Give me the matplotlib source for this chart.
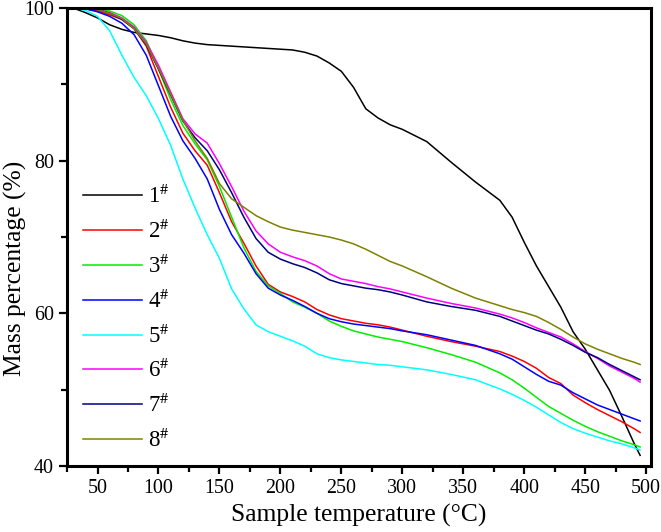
import matplotlib
matplotlib.use("Agg")
import matplotlib.pyplot as plt
from matplotlib.ticker import MultipleLocator

# temperature grid (deg C) that the curves were read on
temp = [30, 40, 50, 60, 70, 80, 90, 100, 110, 120, 130, 140, 150, 160, 170,
        180, 190, 200, 210, 220, 230, 240, 250, 260, 270, 280, 290, 300, 320,
        340, 360, 380, 390, 400, 410, 420, 430, 440, 450, 460, 470, 480, 490, 495]

s1 = [100, 99.4, 98.7, 97.8, 97.2, 96.8, 96.6, 96.4, 96.1, 95.7, 95.4, 95.2, 95.1, 95.0, 94.9,
      94.8, 94.7, 94.6, 94.5, 94.2, 93.7, 92.8, 91.7, 89.6, 86.8, 85.6, 84.7, 84.1, 82.5,
      79.8, 77.2, 74.8, 72.6, 69.3, 66.2, 63.5, 60.8, 57.6, 55.3, 52.6, 49.9, 46.5, 43.0, 41.4]
s2 = [100, 99.9, 99.6, 99.1, 98.5, 97.3, 95.0, 91.0, 87.0, 83.6, 81.3, 79.4, 75.8, 72.0, 69.2,
      66.2, 63.8, 62.8, 62.2, 61.5, 60.5, 59.8, 59.3, 59.0, 58.7, 58.5, 58.2, 57.8, 57.0,
      56.3, 55.7, 55.0, 54.4, 53.7, 52.8, 51.6, 50.8, 49.3, 48.3, 47.4, 46.6, 45.8, 44.9, 44.4]
s3 = [100, 100, 99.9, 99.6, 99.0, 97.8, 95.7, 92.0, 88.0, 84.6, 82.2, 80.1, 76.6, 72.6, 68.6,
      65.5, 63.6, 62.6, 61.5, 60.8, 60.0, 59.0, 58.3, 57.7, 57.3, 56.9, 56.6, 56.3, 55.5,
      54.6, 53.6, 52.2, 51.3, 50.2, 49.0, 47.8, 46.9, 46.0, 45.2, 44.5, 43.9, 43.3, 42.8, 42.5]
s4 = [100, 99.9, 99.5, 98.9, 98.0, 96.5, 93.8, 89.8, 85.8, 82.6, 80.3, 77.6, 73.6, 70.3, 67.9,
      65.2, 63.3, 62.4, 61.7, 60.9, 60.0, 59.3, 58.9, 58.6, 58.4, 58.2, 58.0, 57.7, 57.2,
      56.5, 55.8, 54.7, 54.0, 53.0, 52.0, 51.1, 50.6, 49.6, 48.8, 48.0, 47.4, 46.8, 46.2, 45.9]
s5 = [100, 99.7, 98.9, 97.0, 93.8, 90.9, 88.5, 85.5, 82.0, 77.6, 73.8, 70.3, 67.2, 63.2, 60.6,
      58.5, 57.6, 57.0, 56.4, 55.7, 54.7, 54.2, 53.9, 53.7, 53.5, 53.3, 53.2, 53.0, 52.6,
      52.0, 51.3, 50.1, 49.4, 48.6, 47.7, 46.7, 45.7, 44.9, 44.3, 43.8, 43.3, 42.9, 42.4, 42.1]
s6 = [100, 100, 99.8, 99.4, 98.7, 97.5, 95.5, 92.5, 89.0, 85.5, 83.5, 82.3, 79.6, 76.6, 73.4,
      70.8, 69.1, 68.0, 67.4, 66.9, 66.2, 65.2, 64.5, 64.2, 63.9, 63.5, 63.2, 62.8, 62.0,
      61.3, 60.7, 59.9, 59.4, 58.8, 58.1, 57.5, 56.9, 56.0, 55.0, 54.1, 53.1, 52.3, 51.5, 51.0]
s7 = [100, 100, 99.8, 99.3, 98.5, 97.3, 95.2, 92.0, 88.6, 85.2, 83.0, 81.3, 78.8, 75.8, 72.6,
      69.8, 68.0, 67.1, 66.5, 66.0, 65.3, 64.4, 63.9, 63.6, 63.3, 63.1, 62.8, 62.4, 61.5,
      60.9, 60.4, 59.6, 59.0, 58.4, 57.8, 57.3, 56.6, 55.8, 54.9, 54.2, 53.3, 52.5, 51.7, 51.3]
s8 = [100, 100, 99.8, 99.3, 98.6, 97.3, 95.3, 92.1, 88.7, 85.3, 82.6, 80.3, 77.0, 75.0, 73.9,
      72.8, 72.0, 71.3, 70.9, 70.6, 70.3, 70.0, 69.6, 69.1, 68.4, 67.6, 66.8, 66.2, 64.8,
      63.3, 62.0, 61.0, 60.5, 60.1, 59.6, 58.8, 57.9, 56.9, 56.0, 55.3, 54.7, 54.1, 53.6, 53.3]

samples = [r'1$^{\#}$', r'2$^{\#}$', r'3$^{\#}$', r'4$^{\#}$',
           r'5$^{\#}$', r'6$^{\#}$', r'7$^{\#}$', r'8$^{\#}$']
colors = ['#000000', '#ff0000', '#00ee00', '#0000ff',
          '#00ffff', '#ff00ff', '#000080', '#808000']

plt.rcParams['font.family'] = ['Liberation Serif', 'DejaVu Serif']
plt.rcParams['mathtext.fontset'] = 'stix'

fig = plt.figure(figsize=(6.61, 5.32), dpi=100)
ax = fig.add_axes([0.1014, 0.124, 0.8836, 0.861])

for ys, c, lab in zip([s1, s2, s3, s4, s5, s6, s7, s8], colors, samples):
    ax.plot(temp, ys, color=c, lw=1.1, label=lab)

ax.set_xlim(25, 504)
ax.set_ylim(40, 100)
ax.xaxis.set_major_locator(MultipleLocator(50))
ax.xaxis.set_minor_locator(MultipleLocator(25))
ax.yaxis.set_major_locator(MultipleLocator(20))
ax.yaxis.set_minor_locator(MultipleLocator(10))
ax.tick_params(which='both', direction='out', width=1.6, labelsize=14.4)
ax.tick_params(which='major', length=6)
ax.tick_params(which='minor', length=4)
for sp in ax.spines.values():
    sp.set_linewidth(2.2)

ax.set_xlabel('Sample temperature (°C)', fontsize=18.4)
ax.set_ylabel('Mass percentage (%)', fontsize=18.4)
ax.yaxis.set_label_coords(-0.068, 0.432)

ax.legend(loc='upper left', bbox_to_anchor=(0.027, 0.614), frameon=False,
          fontsize=16.5, handlelength=2.6, labelspacing=0.51, borderpad=0,
          borderaxespad=0, handletextpad=0.25)

fig.savefig('out.png', dpi=100)
